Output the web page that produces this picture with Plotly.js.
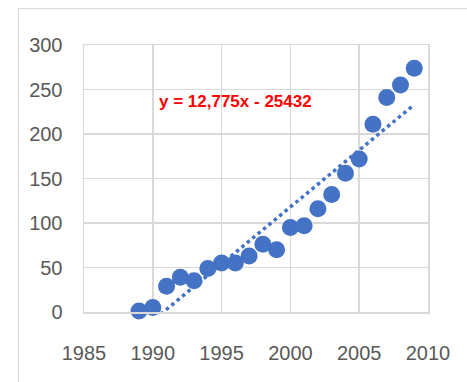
<!DOCTYPE html>
<html><head><meta charset="utf-8">
<script src="https://cdn.plot.ly/plotly-3.0.1.min.js"></script>
<style>
html,body{margin:0;padding:0;background:#fff;}
#chart{width:467px;height:382px;}
#frame{position:absolute;left:18px;top:8px;width:460px;height:400px;border:1px solid #d9d9d9;pointer-events:none;}
</style></head>
<body>
<div id="chart"></div>
<div id="frame"></div>
<script>
const years = [1989,1990,1991,1992,1993,1994,1995,1996,1997,1998,1999,2000,2001,2002,2003,2004,2005,2006,2007,2008,2009];
const values = [1,5,29,39,35,49,55,55,63,76,70,95,97,116,132,156,172,211,241,255,274];
const slope = 12.775;
const intercept = -25432;
const labelText = 'y = 12,775x - 25432';
const xTicks = [1985,1990,1995,2000,2005,2010];
const yTicks = [0,50,100,150,200,250,300];

const tx = [years[0], years[years.length-1]];
const ty = tx.map(x => slope*x + intercept);

const blue = '#4472C4';
const tickFont = {family:'"Liberation Sans", Arial, sans-serif', size:20, color:'#595959'};

Plotly.newPlot('chart', [
  {x: tx, y: ty, mode:'lines', type:'scatter', line:{color:blue, width:3.5, dash:'dot'}, hoverinfo:'skip'},
  {x: years, y: values, mode:'markers', type:'scatter', cliponaxis:false, marker:{color:blue, size:17}}
], {
  width:467, height:382,
  margin:{l:84, r:39, t:45, b:70},
  paper_bgcolor:'rgba(0,0,0,0)', plot_bgcolor:'#fff',
  showlegend:false,
  xaxis:{range:[1985,2010], tickvals:xTicks, ticktext:xTicks.map(String), showgrid:true, gridcolor:'#d9d9d9', gridwidth:1.5,
    zeroline:false, showline:true, linecolor:'#d9d9d9', linewidth:1.5, mirror:true,
    ticks:'outside', ticklen:22, tickcolor:'rgba(0,0,0,0)', tickfont:tickFont},
  yaxis:{range:[0,300], tickvals:yTicks, ticktext:yTicks.map(String), showgrid:true, gridcolor:'#d9d9d9', gridwidth:1.5,
    zeroline:false, showline:true, linecolor:'#d9d9d9', linewidth:1.5, mirror:true,
    ticks:'outside', ticklen:16, tickcolor:'rgba(0,0,0,0)', tickfont:tickFont},
  annotations:[{x:1996, y:236, xref:'x', yref:'y', text:'<b>'+labelText+'</b>', showarrow:false,
    font:{family:'"Liberation Sans", Arial, sans-serif', size:17, color:'#ff0000'}}]
}, {staticPlot:true});
</script>
</body></html>
